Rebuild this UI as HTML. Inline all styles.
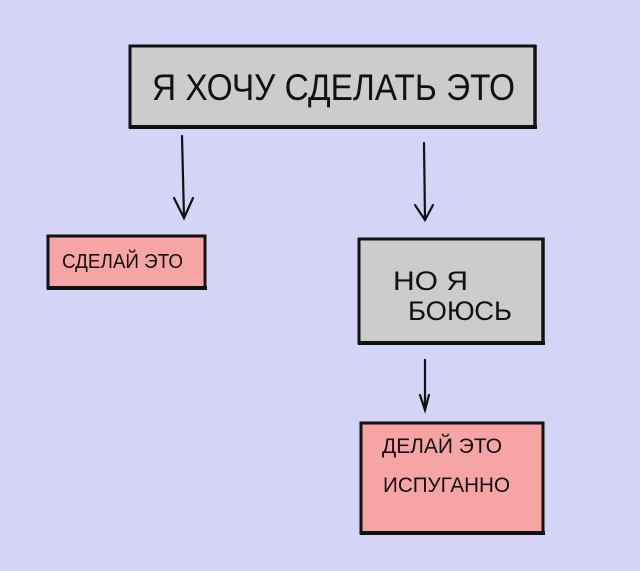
<!DOCTYPE html>
<html><head><meta charset="utf-8"><style>
html,body{margin:0;padding:0;background:#d4d4f6;}
svg{display:block}
text{font-family:"Liberation Sans","DejaVu Sans",sans-serif;fill:#111;}
</style></head><body>
<svg width="640" height="571" viewBox="0 0 640 571" xmlns="http://www.w3.org/2000/svg">
<rect width="640" height="571" fill="#d4d4f6"/>
<!-- top box -->
<rect x="130" y="46" width="405" height="81" fill="#cccccb" stroke="#111" stroke-width="3"/>
<line x1="129" y1="127" x2="537" y2="127" stroke="#111" stroke-width="4"/>
<line x1="535" y1="45" x2="535" y2="129" stroke="#111" stroke-width="3.5"/>
<text x="152" y="100" font-size="37" textLength="363" lengthAdjust="spacingAndGlyphs">Я ХОЧУ СДЕЛАТЬ  ЭТО</text>
<!-- arrows -->
<g stroke="#111" stroke-width="2.2" fill="none" stroke-linecap="round">
<path d="M182 136 L184 218 M174 198 L184 218 L193 198"/>
<path d="M424 143 L425 220 M415 205 L425 220 L433 205"/>
<path d="M425 360 L425 410 M420 395 L425 410 L429 395"/>
</g>
<!-- left pink -->
<rect x="48" y="236" width="157" height="52" fill="#f7a4a4" stroke="#111" stroke-width="3"/>
<line x1="47" y1="288" x2="207" y2="288" stroke="#111" stroke-width="4"/>
<text x="62" y="268" font-size="20" textLength="121" lengthAdjust="spacingAndGlyphs">СДЕЛАЙ  ЭТО</text>
<!-- gray -->
<rect x="359" y="239" width="184" height="104" fill="#cccccb" stroke="#111" stroke-width="3"/>
<line x1="358" y1="343" x2="545" y2="343" stroke="#111" stroke-width="4"/>
<line x1="543" y1="238" x2="543" y2="345" stroke="#111" stroke-width="3.5"/>
<text x="393" y="290" font-size="27" textLength="75" lengthAdjust="spacingAndGlyphs">НО  Я</text>
<text x="408" y="320" font-size="27" textLength="104" lengthAdjust="spacingAndGlyphs">БОЮСЬ</text>
<!-- bottom pink -->
<rect x="361" y="423" width="182" height="110" fill="#f7a4a4" stroke="#111" stroke-width="3"/>
<line x1="360" y1="533" x2="545" y2="533" stroke="#111" stroke-width="4"/>
<text x="382" y="453" font-size="21" textLength="120" lengthAdjust="spacingAndGlyphs">ДЕЛАЙ  ЭТО</text>
<text x="383" y="492" font-size="21" textLength="127" lengthAdjust="spacingAndGlyphs">ИСПУГАННО</text>
</svg>
</body></html>
